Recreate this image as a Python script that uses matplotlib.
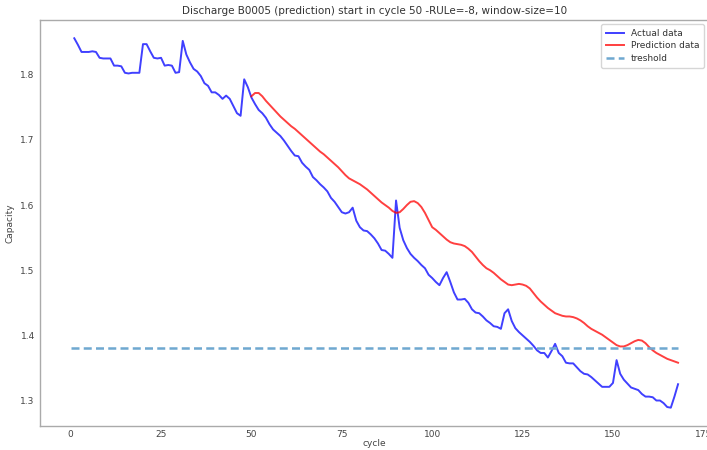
import numpy as np
import matplotlib
matplotlib.use("Agg")
import matplotlib.pyplot as plt

# Actual capacity, cycles 1..168
actual_cycles = np.arange(1, 169)
actual_capacity = [
    1.856, 1.846, 1.835, 1.835, 1.835, 1.836, 1.835, 1.826, 1.825, 1.825,
    1.825, 1.814, 1.814, 1.813, 1.803, 1.802, 1.803, 1.803, 1.803, 1.847,
    1.847, 1.836, 1.826, 1.825, 1.826, 1.814, 1.815, 1.814, 1.803, 1.804,
    1.852, 1.831, 1.819, 1.809, 1.805, 1.798, 1.787, 1.783, 1.773, 1.773,
    1.769, 1.763, 1.768, 1.763, 1.752, 1.741, 1.737, 1.793, 1.781, 1.765,
    1.755, 1.746, 1.741, 1.734, 1.724, 1.716, 1.711, 1.706, 1.699, 1.691,
    1.683, 1.676, 1.675, 1.665, 1.659, 1.654, 1.643, 1.638, 1.632, 1.627,
    1.621, 1.611, 1.605, 1.597, 1.589, 1.587, 1.589, 1.596, 1.576, 1.566,
    1.561, 1.560, 1.555, 1.549, 1.541, 1.531, 1.530, 1.525, 1.519, 1.607,
    1.565, 1.546, 1.534, 1.525, 1.519, 1.514, 1.508, 1.503, 1.493, 1.488,
    1.482, 1.477, 1.488, 1.497, 1.482, 1.466, 1.455, 1.455, 1.456, 1.450,
    1.440, 1.435, 1.434, 1.429, 1.423, 1.419, 1.414, 1.413, 1.410, 1.434,
    1.440, 1.422, 1.411, 1.405, 1.400, 1.395, 1.390, 1.384, 1.377, 1.373,
    1.373, 1.366, 1.376, 1.387, 1.373, 1.368, 1.358, 1.357, 1.357, 1.351,
    1.345, 1.341, 1.340, 1.336, 1.331, 1.326, 1.321, 1.321, 1.321, 1.327,
    1.362, 1.341, 1.332, 1.326, 1.320, 1.318, 1.316, 1.310, 1.306, 1.306,
    1.305, 1.300, 1.300, 1.296, 1.290, 1.289, 1.306, 1.325,
]

# Prediction, cycles 50..168
pred_cycles = np.arange(50, 169)
pred_capacity = [
    1.767, 1.772, 1.772, 1.767, 1.760, 1.754, 1.748, 1.742, 1.736, 1.731,
    1.726, 1.721, 1.717, 1.712, 1.707, 1.702, 1.697, 1.692, 1.687, 1.682,
    1.678, 1.673, 1.668, 1.663, 1.658, 1.652, 1.646, 1.641, 1.638, 1.635,
    1.632, 1.628, 1.624, 1.619, 1.614, 1.609, 1.604, 1.600, 1.596, 1.591,
    1.588, 1.589, 1.594, 1.600, 1.605, 1.606, 1.603, 1.597, 1.588, 1.577,
    1.566, 1.562, 1.557, 1.552, 1.547, 1.543, 1.541, 1.540, 1.539, 1.537,
    1.533, 1.528, 1.521, 1.514, 1.508, 1.503, 1.500, 1.496, 1.491, 1.486,
    1.482, 1.478, 1.477, 1.478, 1.479, 1.478, 1.476, 1.472, 1.465, 1.458,
    1.452, 1.447, 1.442, 1.438, 1.434, 1.432, 1.430, 1.429, 1.429, 1.428,
    1.426, 1.423, 1.419, 1.414, 1.410, 1.407, 1.404, 1.401, 1.397, 1.393,
    1.389, 1.385, 1.383, 1.383, 1.385, 1.388, 1.391, 1.393, 1.392, 1.388,
    1.382, 1.377, 1.373, 1.370, 1.367, 1.364, 1.362, 1.360, 1.358,
]

threshold = 1.38
threshold_cycles = [0, 168]

plt.rcParams['font.family'] = ['DejaVu Sans']
fig = plt.figure(figsize=(7.07, 4.5), dpi=100)
ax = fig.add_axes([0.057, 0.053, 0.945, 0.903])

ax.plot(actual_cycles, actual_capacity, color='blue', alpha=0.75, lw=1.4, label='Actual data')
ax.plot(pred_cycles, pred_capacity, color='red', alpha=0.75, lw=1.4, label='Prediction data')
thr, = ax.plot(threshold_cycles, [threshold, threshold], color='#6fa8d0', lw=1.8,
               linestyle='--', label='treshold')
thr.set_dashes((3.2, 1.7))

ax.set_xticks([0, 25, 50, 75, 100, 125, 150, 175])
ax.set_yticks([1.3, 1.4, 1.5, 1.6, 1.7, 1.8])
ax.tick_params(length=0, labelsize=6.5, colors='#444444')
ax.tick_params(axis='x', pad=3)
ax.tick_params(axis='y', pad=4)
for s in ax.spines.values():
    s.set_color('#aaaaaa')
    s.set_linewidth(1.0)

ax.set_title('Discharge B0005 (prediction) start in cycle 50 -RULe=-8, window-size=10',
             fontsize=7.5, color='#333333', pad=4)
ax.set_xlabel('cycle', fontsize=6.5, color='#444444', labelpad=0)
ax.set_ylabel('Capacity', fontsize=6.5, color='#444444', labelpad=4)

leg = ax.legend(loc='upper right', fontsize=6.5, frameon=True, fancybox=True,
                handlelength=2.0, borderpad=0.5, labelspacing=0.4)
leg.get_frame().set_edgecolor('#cccccc')
for t in leg.get_texts():
    t.set_color('#333333')

fig.savefig('out.png', dpi=100)
